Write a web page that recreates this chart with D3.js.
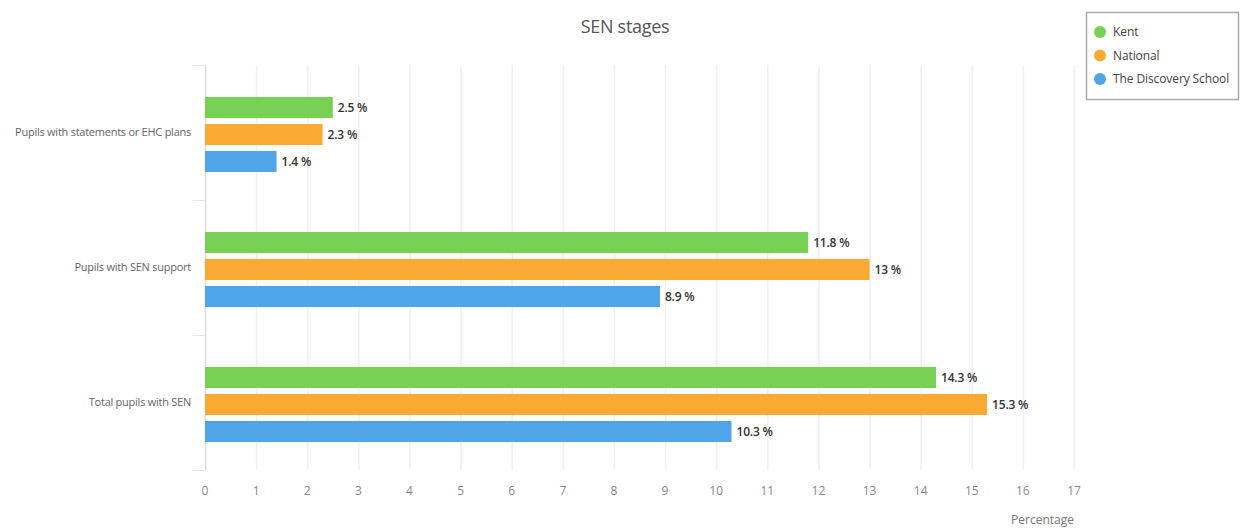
<!DOCTYPE html>
<html>
<head>
<meta charset="utf-8">
<script src="https://cdn.jsdelivr.net/npm/d3@7"></script>
<style>
	body { margin: 0; background: #fff; }
	svg { font-family: "Open Sans", sans-serif; }
</style>
</head>
<body>
<svg id="chart" width="1241" height="530"></svg>
<script>
// data
var categories = ['Pupils with statements or EHC plans', 'Pupils with SEN support', 'Total pupils with SEN'];
var seriesNames = ['Kent', 'National', 'The Discovery School'];
var seriesColors = ['#78d155', '#f8aa33', '#4fa5e8'];
var kent = [2.5, 11.8, 14.3];
var national = [2.3, 13, 15.3];
var discovery = [1.4, 8.9, 10.3];
var xTicks = [0, 1, 2, 3, 4, 5, 6, 7, 8, 9, 10, 11, 12, 13, 14, 15, 16, 17];

var values = [kent, national, discovery];

var svg = d3.select('#chart'),
	margin = {top: 65, left: 205, right: 167, bottom: 60},
	width = 1241 - margin.left - margin.right,
	height = 470 - margin.top;

var g = svg.append('g').attr('transform', 'translate(' + margin.left + ',' + margin.top + ')');

var x = d3.scaleLinear().domain([0, 17]).range([0, 869]);
var y = d3.scaleBand().domain(categories).range([0, height]);
var y1 = d3.scaleBand().domain(seriesNames).range([32, 107]).paddingInner(0.22);

// grid
g.append('g').selectAll('line')
	.data(xTicks)
	.enter().append('line')
	.attr('x1', function (d) { return x(d) + 0.5; })
	.attr('x2', function (d) { return x(d) + 0.5; })
	.attr('y1', 0)
	.attr('y2', height)
	.attr('stroke', function (d) { return d === 0 ? '#dcdcdc' : '#f0f0f0'; })
	.attr('stroke-width', 1.5);

// left axis ticks (band edges)
g.append('g').selectAll('line')
	.data([0, 1, 2, 3])
	.enter().append('line')
	.attr('x1', -12).attr('x2', 0)
	.attr('y1', function (d) { return d * y.bandwidth() + 0.5; })
	.attr('y2', function (d) { return d * y.bandwidth() + 0.5; })
	.attr('stroke', '#e6e6e6');

// category labels
g.append('g').selectAll('text')
	.data(categories)
	.enter().append('text')
	.attr('x', -14)
	.attr('y', function (d) { return y(d) + y.bandwidth() / 2; })
	.attr('dy', '0.35em')
	.attr('text-anchor', 'end')
	.attr('font-size', 11)
	.attr('letter-spacing', -0.25)
	.attr('fill', '#666')
	.text(function (d) { return d; });

// bars
var groups = g.append('g').selectAll('g')
	.data(categories)
	.enter().append('g')
	.attr('transform', function (d) { return 'translate(0,' + y(d) + ')'; });

groups.selectAll('rect')
	.data(function (d, i) {
		return seriesNames.map(function (s, j) { return {series: s, value: values[j][i], color: seriesColors[j]}; });
	})
	.enter().append('rect')
	.attr('x', 0)
	.attr('y', function (d) { return y1(d.series); })
	.attr('width', function (d) { return x(d.value); })
	.attr('height', y1.bandwidth())
	.attr('fill', function (d) { return d.color; });

groups.selectAll('text')
	.data(function (d, i) {
		return seriesNames.map(function (s, j) { return {series: s, value: values[j][i]}; });
	})
	.enter().append('text')
	.attr('x', function (d) { return x(d.value) + 5; })
	.attr('y', function (d) { return y1(d.series) + y1.bandwidth() / 2; })
	.attr('dy', '0.4em')
	.attr('font-size', 12)
	.attr('font-weight', 600)
	.attr('letter-spacing', -0.2)
	.attr('fill', '#333')
	.text(function (d) { return d.value + ' %'; });

// x tick labels
g.append('g').selectAll('text')
	.data(xTicks)
	.enter().append('text')
	.attr('x', function (d) { return x(d); })
	.attr('y', height + 25)
	.attr('text-anchor', 'middle')
	.attr('font-size', 12)
	.attr('fill', '#888')
	.text(function (d) { return d; });

svg.append('text')
	.attr('x', 1074)
	.attr('y', 524)
	.attr('text-anchor', 'end')
	.attr('font-size', 12)
	.attr('fill', '#777')
	.text('Percentage');

svg.append('text')
	.attr('x', 625)
	.attr('y', 33)
	.attr('text-anchor', 'middle')
	.attr('font-size', 18)
	.attr('letter-spacing', -0.3)
	.attr('fill', '#555')
	.text('SEN stages');

// legend
var legend = svg.append('g').attr('transform', 'translate(1086,12)');
legend.append('rect')
	.attr('x', 0.5).attr('y', 0.5)
	.attr('width', 152).attr('height', 87)
	.attr('fill', '#fff')
	.attr('stroke', '#aaa')
	.attr('stroke-width', 1.5);

var items = legend.selectAll('g.item')
	.data(seriesNames)
	.enter().append('g')
	.attr('class', 'item')
	.attr('transform', function (d, i) { return 'translate(0,' + (20 + i * 23.5) + ')'; });

items.append('circle')
	.attr('cx', 14).attr('cy', 0).attr('r', 6)
	.attr('fill', function (d, i) { return seriesColors[i]; });

items.append('text')
	.attr('x', 27).attr('y', 0).attr('dy', '0.35em')
	.attr('font-size', 12)
	.attr('letter-spacing', -0.1)
	.attr('fill', '#444')
	.text(function (d) { return d; });
</script>
</body>
</html>
